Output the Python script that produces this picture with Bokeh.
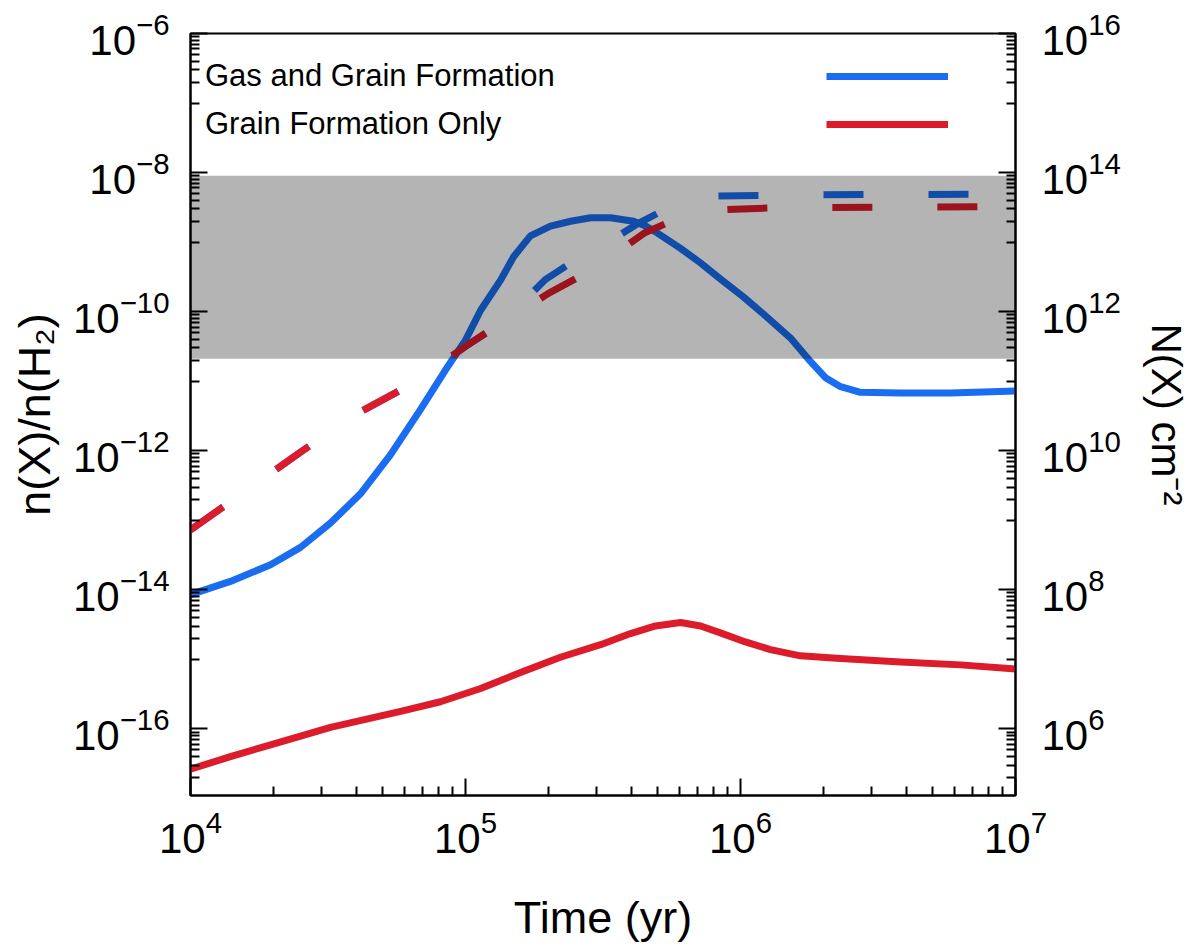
import numpy as np
from bokeh.plotting import figure
from bokeh.models import (LogAxis, Range1d, LogScale, FixedTicker, BoxAnnotation,
                          Legend, LegendItem)
from bokeh.embed import file_html
from bokeh.resources import INLINE

# ---------------- data (log10 values) ----------------
# abundance n(X)/n(H2), "Gas and Grain Formation" (solid blue)
log_t_gas_grain = [4.0, 4.145, 4.291, 4.4, 4.509, 4.618, 4.727, 4.836, 4.927, 5.0,
                   5.055, 5.127, 5.175, 5.236, 5.309, 5.382, 5.455, 5.527, 5.611,
                   5.655, 5.698, 5.782, 5.855, 5.927, 6.011, 6.091, 6.182, 6.255,
                   6.309, 6.364, 6.436, 6.582, 6.764, 7.0]
log_abund_gas_grain = [-14.07, -13.88, -13.64, -13.39, -13.04, -12.62, -12.06, -11.41,
                       -10.84, -10.41, -9.98, -9.55, -9.21, -8.91, -8.77, -8.70, -8.65,
                       -8.65, -8.70, -8.77, -8.87, -9.09, -9.30, -9.53, -9.79, -10.06,
                       -10.38, -10.72, -10.95, -11.08, -11.16, -11.17, -11.17, -11.14]

# abundance n(X)/n(H2), "Grain Formation Only" (solid red)
log_t_grain = [4.0, 4.145, 4.291, 4.509, 4.764, 4.909, 5.055, 5.2, 5.345, 5.491, 5.6,
               5.691, 5.782, 5.855, 5.927, 6.018, 6.109, 6.218, 6.364, 6.582, 6.8, 7.0]
log_abund_grain = [-16.58, -16.40, -16.23, -15.98, -15.75, -15.61, -15.42, -15.19,
                   -14.97, -14.79, -14.63, -14.52, -14.47, -14.52, -14.62, -14.75,
                   -14.86, -14.95, -14.99, -15.04, -15.08, -15.14]

# column density N(X) cm^-2, "Gas and Grain Formation" (dashed blue)
log_t_col_gas_grain = [4.0, 4.2, 4.4, 4.6, 4.8, 5.0, 5.1, 5.2, 5.29, 5.41, 5.52,
                       5.62, 5.74, 5.87, 6.2, 7.0]
log_col_gas_grain = [8.86, 9.42, 9.98, 10.52, 10.95, 11.50, 11.76, 12.10, 12.46,
                     12.77, 13.00, 13.25, 13.50, 13.66, 13.68, 13.69]

# column density N(X) cm^-2, "Grain Formation Only" (dashed red)
log_t_col_grain = [4.0, 4.2, 4.4, 4.6, 4.8, 5.0, 5.1, 5.2, 5.3, 5.45, 5.55, 5.65,
                   5.77, 5.9, 6.1, 6.5, 7.0]
log_col_grain = [8.86, 9.42, 9.98, 10.52, 10.95, 11.50, 11.76, 12.00, 12.26, 12.58,
                 12.85, 13.13, 13.34, 13.46, 13.49, 13.50, 13.51]

# observed abundance range (grey band)
band_low = 2.1e-11
band_high = 9.0e-9

series_names = ["Gas and Grain Formation", "Grain Formation Only"]

# axes
x_limits = [1e4, 1e7]
y_limits = [1.1e-17, 1e-6]
col_offset = 1e22          # N(X) = n(X)/n(H2) * 1e22 on the right axis
x_major_exp = [4, 5, 6, 7]
y_major_exp = [-16, -14, -12, -10, -8, -6]
col_major_exp = [6, 8, 10, 12, 14, 16]

# ---------------- styling ----------------
BLUE = "#1a6cf0"
RED = "#dc1c2a"
FONT = "Liberation Sans"
LW = 7

def tpow(a):
    return [10.0 ** v for v in a]

p = figure(width=1194, height=945, x_axis_type="log", y_axis_type="log",
           x_range=Range1d(*x_limits), y_range=Range1d(*y_limits),
           output_backend="svg", toolbar_location=None,
           min_border_left=190, min_border_right=179, min_border_top=33,
           min_border_bottom=149)
p.extra_y_ranges = {"col": Range1d(y_limits[0] * col_offset, y_limits[1] * col_offset)}
p.extra_y_scales = {"col": LogScale()}

p.xgrid.visible = False
p.ygrid.visible = False
p.outline_line_color = "black"
p.outline_line_width = 2
p.background_fill_color = "white"
p.border_fill_color = "white"

r_blue = p.line(tpow(log_t_gas_grain), tpow(log_abund_gas_grain), line_color=BLUE,
                line_width=LW, line_join="round")
r_red = p.line(tpow(log_t_grain), tpow(log_abund_grain), line_color=RED,
               line_width=LW, line_join="round")
p.line(tpow(log_t_col_gas_grain), tpow(log_col_gas_grain), line_color=BLUE,
       line_width=LW, line_dash="40 65", y_range_name="col")
p.line(tpow(log_t_col_grain), tpow(log_col_grain), line_color=RED,
       line_width=LW, line_dash="40 65", y_range_name="col")

p.add_layout(BoxAnnotation(bottom=band_low, top=band_high, fill_color="black",
                           fill_alpha=0.294, line_alpha=0))

# tickers
x_minor = [k * 10.0 ** e for e in x_major_exp[:-1] for k in range(2, 10)]
y_minor = [k * 10.0 ** (e - 1) for e in y_major_exp + [-18] for k in range(1, 10)]
col_minor = [k * 10.0 ** (e - 1) for e in col_major_exp + [4] for k in range(1, 10)]


def style_axis(ax, size="42px", label_size="42px"):
    ax.axis_line_width = 2
    ax.axis_line_color = "black"
    ax.major_tick_line_width = 2
    ax.minor_tick_line_width = 2
    ax.major_tick_in = 17
    ax.major_tick_out = 0
    ax.minor_tick_in = 9
    ax.minor_tick_out = 0
    ax.major_label_text_font = FONT
    ax.major_label_text_font_size = size
    ax.major_label_text_color = "black"
    ax.axis_label_text_font = FONT
    ax.axis_label_text_font_size = label_size
    ax.axis_label_text_font_style = "normal"
    ax.axis_label_text_color = "black"


xax = p.xaxis[0]
xax.ticker = FixedTicker(ticks=[10.0 ** e for e in x_major_exp], minor_ticks=x_minor)
xax.axis_label = "Time (yr)"
style_axis(xax, label_size="45px")
xax.major_label_standoff = 14
xax.axis_label_standoff = 36

yax = p.yaxis[0]
yax.ticker = FixedTicker(ticks=[10.0 ** e for e in y_major_exp], minor_ticks=y_minor)
yax.axis_label = "n(X)/n(H₂)"
style_axis(yax, label_size="45px")
yax.major_label_standoff = 21
yax.axis_label_standoff = 10

rax = LogAxis(y_range_name="col", axis_label="N(X) cm⁻²")
rax.ticker = FixedTicker(ticks=[10.0 ** e for e in col_major_exp], minor_ticks=col_minor)
style_axis(rax)
rax.major_label_standoff = 26
rax.axis_label_standoff = 19
p.add_layout(rax, "right")

# legend: text on the left, line samples on the right
leg_text = Legend(items=[LegendItem(label=series_names[0], renderers=[r_blue]),
                         LegendItem(label=series_names[1], renderers=[r_red])],
                  location=(15, 647), glyph_width=0, glyph_height=48, label_height=48,
                  label_standoff=0, spacing=0, padding=0, margin=0,
                  border_line_alpha=0, background_fill_alpha=0,
                  label_text_font=FONT, label_text_font_size="31px",
                  label_text_color="black")
leg_lines = Legend(items=[LegendItem(label=" ", renderers=[r_blue]),
                          LegendItem(label=" ", renderers=[r_red])],
                   location=(636, 647), glyph_width=122, glyph_height=48, label_height=48,
                   label_standoff=0, spacing=0, padding=0, margin=0,
                   border_line_alpha=0, background_fill_alpha=0,
                   label_text_font_size="10px")
p.add_layout(leg_text)
p.add_layout(leg_lines)

open("out.html", "w").write(file_html(p, INLINE))
